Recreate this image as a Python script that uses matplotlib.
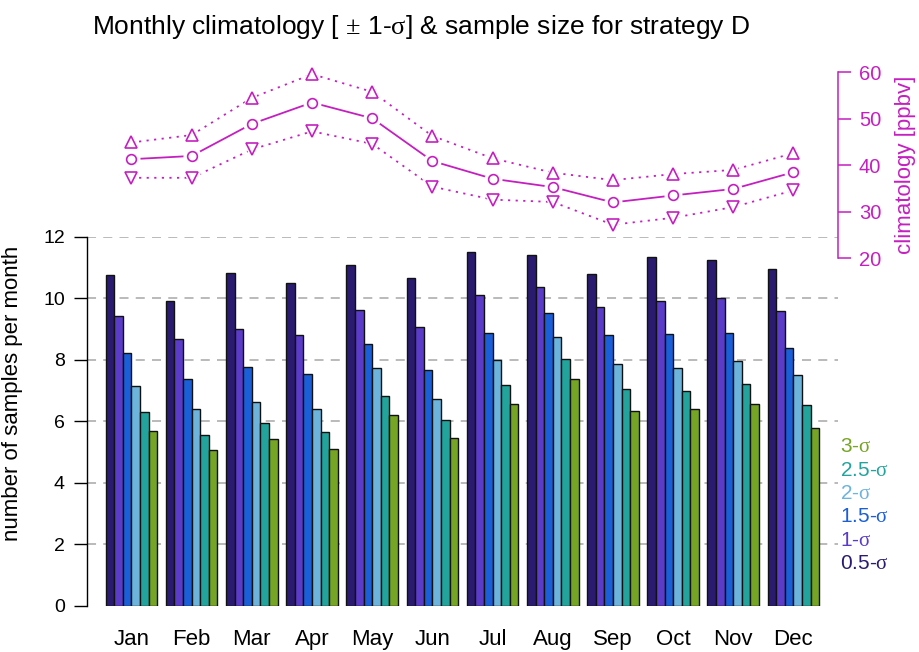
import numpy as np
import matplotlib
matplotlib.use('Agg')
import matplotlib.pyplot as plt

plt.rcParams['font.family'] = ['Liberation Sans', 'DejaVu Sans']
# greek letters in serif, like a symbol font
plt.rcParams['mathtext.fontset'] = 'custom'
plt.rcParams['mathtext.rm'] = 'Liberation Serif'
plt.rcParams['mathtext.it'] = 'Liberation Serif'

months = ['Jan', 'Feb', 'Mar', 'Apr', 'May', 'Jun',
          'Jul', 'Aug', 'Sep', 'Oct', 'Nov', 'Dec']
sigma_labels = ['0.5-$\\sigma$', '1-$\\sigma$', '1.5-$\\sigma$',
                '2-$\\sigma$', '2.5-$\\sigma$', '3-$\\sigma$']
sigma_colors = ['#2a1b70', '#5a3cc8', '#1a5fd8', '#6cb4dc', '#22a49c', '#76a424']

# samples per month for each sigma threshold
n_05 = [10.76, 9.89, 10.81, 10.50, 11.07, 10.65, 11.49, 11.39, 10.77, 11.34, 11.23, 10.94]
n_10 = [9.43, 8.67, 8.98, 8.79, 9.61, 9.05, 10.10, 10.36, 9.72, 9.89, 10.01, 9.57]
n_15 = [8.20, 7.38, 7.75, 7.53, 8.49, 7.66, 8.86, 9.50, 8.79, 8.84, 8.86, 8.37]
n_20 = [7.14, 6.40, 6.62, 6.39, 7.71, 6.72, 8.00, 8.73, 7.86, 7.73, 7.94, 7.51]
n_25 = [6.31, 5.54, 5.95, 5.66, 6.81, 6.05, 7.16, 8.01, 7.04, 6.98, 7.19, 6.52]
n_30 = [5.68, 5.05, 5.42, 5.10, 6.20, 5.45, 6.55, 7.36, 6.33, 6.40, 6.55, 5.76]

# monthly climatology (ppbv) and +/- 1 sigma
clim_mean = [41.3, 42.0, 48.9, 53.5, 50.1, 40.9, 37.1, 35.3, 32.0, 33.5, 34.9, 38.5]
clim_upper = [44.9, 46.5, 54.5, 59.6, 55.8, 46.3, 41.5, 38.4, 36.8, 38.1, 39.0, 42.6]
clim_lower = [37.3, 37.3, 43.4, 47.3, 44.6, 35.4, 32.6, 32.1, 27.2, 28.7, 31.0, 34.6]

counts = [n_05, n_10, n_15, n_20, n_25, n_30]
magenta = '#c51fc0'

W, H = 920, 652
fig = plt.figure(figsize=(W / 100, H / 100), dpi=100)

def frac(x0, y0, x1, y1):
    # pixel box (top-left origin) -> figure fraction rect
    return [x0 / W, 1 - y1 / H, (x1 - x0) / W, (y1 - y0) / H]

# R-style grouped bars: width 1, one bar gap between groups
ngrp = len(sigma_labels)
period = ngrp + 1
xlim = (-1.175, 86.18)

ax = fig.add_axes(frac(87, 236.5, 838, 605.7))
for j, (vals, col) in enumerate(zip(counts, sigma_colors)):
    lefts = 1 + period * np.arange(len(months)) + j
    ax.bar(lefts, vals, width=1, align='edge', color=col,
           edgecolor='#111111', linewidth=1.0, zorder=3)

for yv in range(2, 13, 2):
    ax.axhline(yv, color='#b4b4b4', linestyle=(0, (5, 4)), linewidth=1.3, zorder=1)

centers = 1 + period * np.arange(len(months)) + ngrp / 2
ax.set_xlim(*xlim)
ax.set_ylim(0, 12)
ax.set_xticks(centers)
ax.set_xticklabels(months, fontsize=16)
ax.tick_params(axis='x', length=0, pad=17)
ax.set_yticks(range(0, 13, 2))
ax.tick_params(axis='y', labelsize=14, length=9.5, width=1, pad=6.5)
for s in ['top', 'right', 'bottom']:
    ax.spines[s].set_visible(False)
ax.spines['left'].set_linewidth(1)
ax.set_ylabel('number of samples per month', fontsize=16)
ax.yaxis.set_label_coords(-0.0852, 0.576)

# sigma labels stacked at the right
for j, (lab, col) in enumerate(zip(sigma_labels, sigma_colors)):
    fig.text(840 / W, 1 - (563.3 - 23.3 * j) / H, lab, color=col,
             fontsize=15, ha='left', va='center')

# climatology panel on top
ax2 = fig.add_axes(frac(87, 72.3, 838, 258.2))
ax2.patch.set_alpha(0)
ax2.set_xlim(*xlim)
ax2.set_ylim(20, 60)
for vals, ls, mk, ms in [(clim_upper, (0, (1.2, 3)), '^', 9),
                         (clim_mean, '-', 'o', 7),
                         (clim_lower, (0, (1.2, 3)), 'v', 9)]:
    ax2.plot(centers, vals, color=magenta, linestyle=ls, linewidth=1.3,
             clip_on=False, zorder=2)
    # white halo leaves a gap between line and marker
    ax2.plot(centers, vals, linestyle='none', marker=mk, markersize=ms + 5,
             markerfacecolor='white', markeredgecolor='white',
             clip_on=False, zorder=3)
    ax2.plot(centers, vals, linestyle='none', marker=mk, markersize=ms,
             markerfacecolor='none', markeredgecolor=magenta,
             markeredgewidth=1.2, clip_on=False, zorder=4)

for s in ['top', 'left', 'bottom']:
    ax2.spines[s].set_visible(False)
ax2.spines['right'].set_color(magenta)
ax2.spines['right'].set_linewidth(1.1)
ax2.set_xticks([])
ax2.yaxis.tick_right()
ax2.set_yticks(range(20, 61, 10))
ax2.tick_params(axis='y', colors=magenta, labelsize=14.5, length=9.5, width=1.1, pad=5.5)
fig.text(906 / W, 1 - 165 / H, 'climatology [ppbv]', color=magenta,
         fontsize=16, rotation=90, ha='center', va='center')

fig.text(421 / W, 1 - 27 / H,
         'Monthly climatology [ $\\pm$ 1-$\\sigma$] & sample size for strategy D',
         fontsize=19, ha='center', va='center')

fig.savefig('out.png', dpi=100)
